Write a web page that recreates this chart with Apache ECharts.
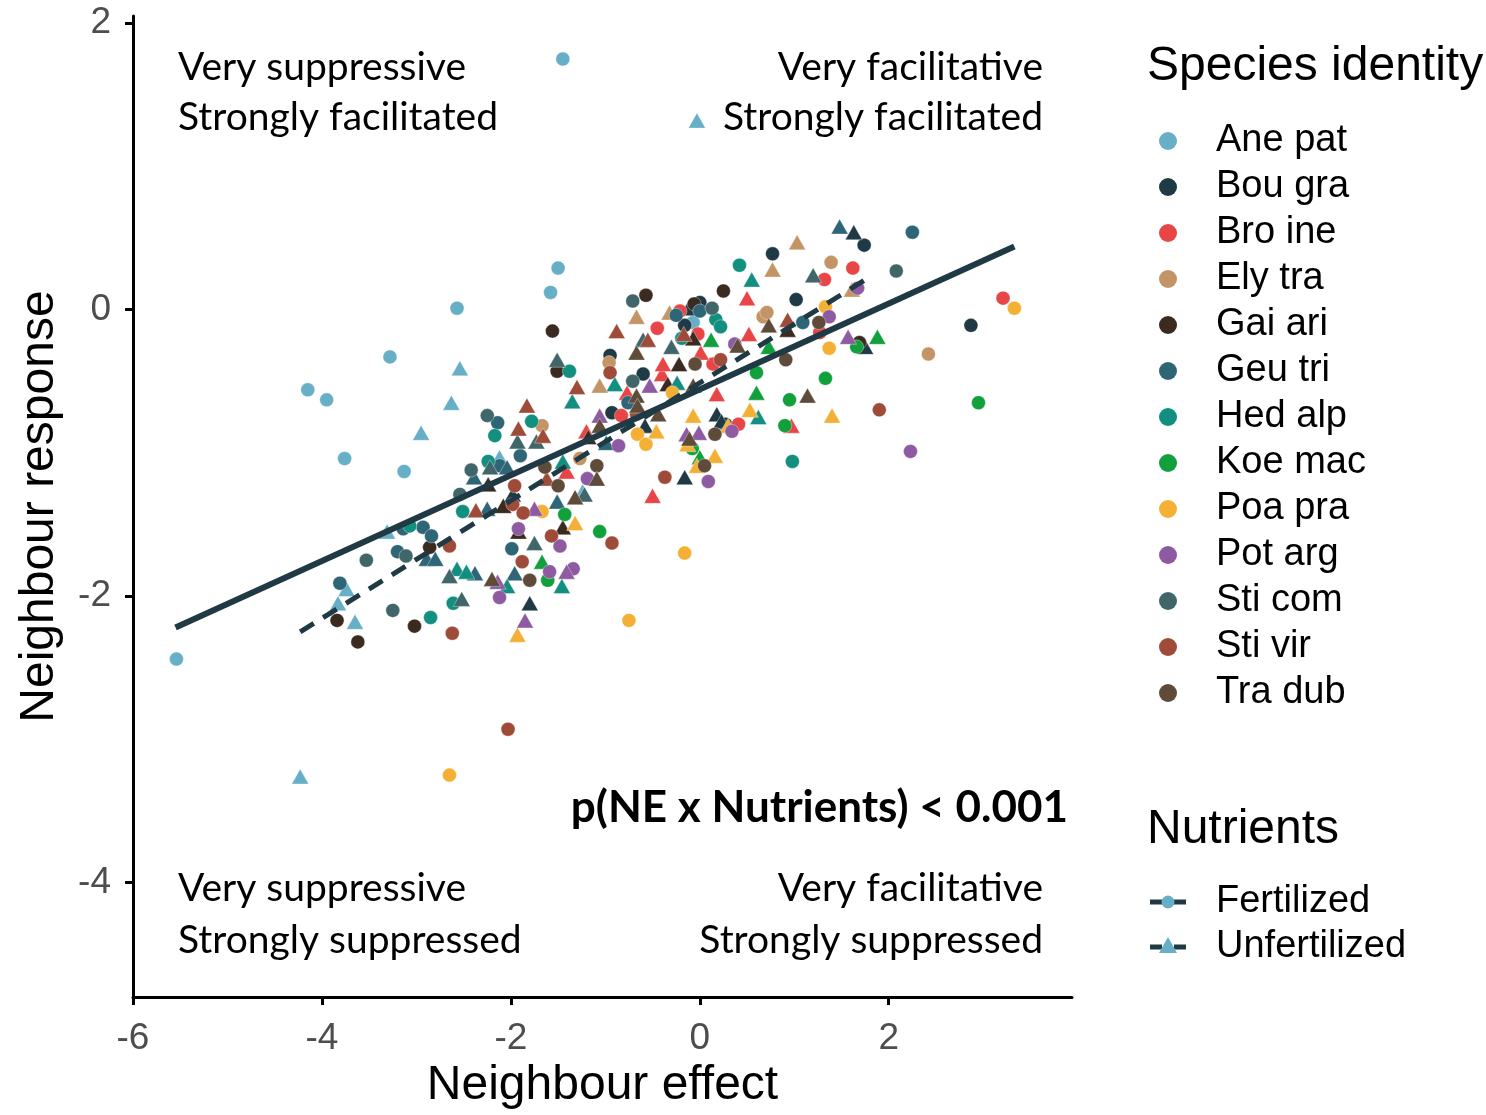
<!DOCTYPE html>
<html>
<head>
<meta charset="utf-8">
<script src="https://cdn.jsdelivr.net/npm/echarts@6/dist/echarts.min.js"></script>
<style>html,body{margin:0;padding:0;background:#fff;}#chart{width:1486px;height:1115px;}</style>
</head>
<body>
<div id="chart"></div>
<script>
// ---- Data ----
const species = ['Ane pat','Bou gra','Bro ine','Ely tra','Gai ari','Geu tri','Hed alp','Koe mac','Poa pra','Pot arg','Sti com','Sti vir','Tra dub'];
const speciesColors = ['#67AFC7','#1F3A45','#E84547','#C39465','#3A2A20','#2E6577','#138F80','#12A03C','#F4B034','#8E5AA2','#416669','#9E4B3A','#5E4B3A'];
const nutrients = ['Fertilized', 'Unfertilized'];

// Fertilized (circles), [neighbour effect, neighbour response]
const fertAnePat = [[-1.45,1.75],[-1.50,0.29],[-1.58,0.12],[-2.57,0.01],[-3.28,-0.33],[-4.15,-0.56],[-3.95,-0.63],[-3.76,-1.04],[-3.13,-1.13],[-5.54,-2.44],[-0.07,-0.09]];
const fertBouGra = [[1.74,0.45],[2.87,-0.11],[1.02,0.07],[0.77,0.39],[-0.95,-0.32],[-0.16,-0.11],[-0.60,-0.45],[-0.93,-0.72],[0.00,0.05],[0.27,-0.80]];
const fertBroIne = [[3.21,0.08],[1.62,0.29],[1.32,0.21],[1.27,-0.16],[-0.21,-0.01],[-0.02,-0.17],[0.14,-0.38],[-0.83,-0.74],[0.41,-0.80],[-0.45,-0.13]];
const fertElyTra = [[1.39,0.33],[0.67,-0.05],[2.42,-0.31],[-0.96,-0.37],[-1.27,-1.04],[-1.67,-0.81],[0.71,-0.02]];
const fertGaiAri = [[-3.84,-2.17],[-3.62,-2.32],[-3.02,-2.21],[-2.86,-1.66],[-1.56,-0.15],[-0.57,0.10],[-0.06,0.04],[0.25,0.13],[1.69,-0.23],[-1.51,-0.43]];
const fertGeuTri = [[2.25,0.54],[1.09,-0.09],[-0.25,-0.04],[0.00,-0.01],[-0.76,-0.65],[-2.14,-0.79],[-1.90,-1.02],[-2.12,-1.09],[-3.81,-1.91],[-2.93,-1.52],[-2.84,-1.58],[-3.20,-1.69],[-3.14,-1.53],[-1.99,-1.67]];
const fertHedAlp = [[0.42,0.31],[0.17,-0.07],[0.22,-0.12],[-0.19,-0.20],[-1.38,-0.43],[-2.17,-0.88],[-1.78,-0.78],[-2.24,-1.06],[-2.51,-1.41],[-3.07,-1.51],[-2.85,-2.15],[-2.61,-2.05],[0.98,-1.06]];
const fertKoeMac = [[1.66,-0.26],[0.60,-0.44],[1.33,-0.48],[0.95,-0.63],[0.90,-0.81],[2.95,-0.65],[-0.08,-0.97],[-1.43,-1.43],[-1.06,-1.55],[-1.61,-1.89]];
const fertPoaPra = [[3.33,0.01],[1.33,0.02],[1.37,-0.27],[-0.29,-0.58],[-0.66,-0.87],[-0.57,-0.94],[-0.16,-1.70],[-0.75,-2.17],[-2.65,-3.25],[-1.67,-1.41]];
const fertPotArg = [[1.67,0.15],[1.37,-0.05],[0.37,-0.24],[-0.86,-0.95],[0.34,-0.85],[0.09,-1.20],[-1.19,-1.18],[2.23,-0.99],[-1.48,-1.65],[-1.59,-1.83],[-1.34,-1.81],[-2.12,-2.01],[-1.92,-1.53]];
const fertStiCom = [[2.08,0.27],[-0.71,0.06],[0.13,0.01],[-0.71,-0.50],[-2.25,-0.74],[-2.42,-1.12],[-2.54,-1.29],[-3.53,-1.75],[-3.25,-2.10],[-3.11,-1.72]];
const fertStiVir = [[1.90,-0.70],[0.22,-0.35],[-0.95,-0.44],[-0.67,-0.73],[-0.37,-1.17],[-1.96,-1.23],[-1.98,-1.36],[-1.87,-1.42],[-2.65,-1.65],[-2.62,-2.26],[-2.03,-2.93],[-1.88,-1.76],[-0.93,-1.63],[-1.57,-1.58]];
const fertTraDub = [[1.26,-0.09],[0.91,-0.35],[-0.05,-0.38],[0.16,-0.87],[0.05,-1.09],[-1.09,-1.09],[-1.50,-1.23],[-1.64,-1.10],[-1.80,-1.89]];

// Unfertilized (triangles)
const unfAnePat = [[-0.03,1.32],[-2.54,-0.41],[-2.63,-0.65],[-2.95,-0.86],[-4.23,-3.26],[-3.74,-1.95],[-3.83,-2.05],[-3.65,-2.18],[-2.12,-1.03],[-3.31,-1.55],[-1.24,-1.27]];
const unfBouGra = [[1.63,0.54],[1.75,-0.26],[-0.12,0.01],[0.18,-0.73],[0.23,-0.78],[-0.58,-0.81],[-0.16,-1.17],[-1.80,-2.05],[-1.98,-1.29]];
const unfBroIne = [[0.50,0.08],[0.52,-0.17],[0.97,-0.81],[-0.77,-0.58],[-0.40,-0.45],[-1.20,-0.85],[-0.39,-0.38],[0.01,-0.30],[0.18,-0.59],[-0.50,-1.30],[-1.41,-1.13]];
const unfElyTra = [[1.03,0.47],[1.61,0.14],[0.77,0.28],[-0.67,-0.05],[-0.32,-0.02],[-1.06,-0.53]];
const unfGaiAri = [[0.93,-0.14],[-0.07,-0.20],[-0.22,-0.38],[-0.34,-0.52],[-1.18,-0.89],[-1.45,-1.52],[-2.24,-1.22],[-2.08,-1.37],[-1.92,-1.55]];
const unfGeuTri = [[1.48,0.58],[-2.04,-1.10],[-2.39,-1.17],[-2.25,-1.39],[-2.89,-1.74],[-2.80,-1.74],[-2.38,-1.84],[-1.96,-1.84],[-0.99,-0.93],[-1.51,-1.34]];
const unfHedAlp = [[0.55,0.21],[-1.35,-0.64],[-0.90,-0.52],[-0.24,-0.51],[0.62,-0.75],[-1.45,-1.06],[-2.57,-1.81],[-2.47,-1.83],[-2.04,-1.93],[-1.46,-1.93]];
const unfKoeMac = [[1.88,-0.19],[0.12,-0.21],[0.73,-0.26],[0.60,-0.58],[0.00,-1.03],[-1.67,-1.76]];
const unfPoaPra = [[1.40,-0.74],[0.53,-0.70],[-0.07,-0.74],[0.30,-0.81],[-0.46,-0.85],[-0.13,-0.94],[0.16,-1.02],[-0.03,-1.09],[-1.32,-1.49],[-1.93,-2.27]];
const unfPotArg = [[1.57,-0.19],[-0.53,-0.53],[-1.06,-0.74],[-0.14,-0.87],[-0.01,-0.86],[-1.75,-1.39],[-1.41,-1.83],[-2.14,-1.90],[-1.85,-2.17]];
const unfStiCom = [[1.20,0.24],[-1.51,-0.35],[-0.60,-0.21],[-0.30,-0.26],[-1.73,-0.92],[-1.93,-0.92],[-2.22,-1.10],[-1.22,-1.29],[-2.52,-2.02],[-2.65,-1.86],[-1.75,-1.63]];
const unfStiVir = [[0.93,-0.07],[-0.88,-0.15],[-0.55,-0.21],[-0.17,-0.17],[-1.30,-0.54],[-1.83,-0.67],[-1.92,-0.83],[-1.66,-0.88],[-1.62,-1.18],[-2.37,-1.40]];
const unfTraDub = [[1.14,-0.60],[0.73,-0.11],[0.40,-0.25],[-0.67,-0.30],[-0.67,-0.60],[-0.66,-0.67],[-0.44,-0.73],[-1.06,-0.81],[-0.11,-0.90],[-0.07,-0.53],[-1.09,-1.18],[-1.32,-1.31],[-2.20,-1.88]];

// Fitted lines (end points)
const fertLine = [[-5.55,-2.22],[3.33,0.44]];
const unfLine = [[-4.23,-2.25],[1.78,0.22]];

const xTicks = [-6,-4,-2,0,2];
const yTicks = [-4,-2,0,2];

const fertData = [fertAnePat,fertBouGra,fertBroIne,fertElyTra,fertGaiAri,fertGeuTri,fertHedAlp,fertKoeMac,fertPoaPra,fertPotArg,fertStiCom,fertStiVir,fertTraDub];
const unfData = [unfAnePat,unfBouGra,unfBroIne,unfElyTra,unfGaiAri,unfGeuTri,unfHedAlp,unfKoeMac,unfPoaPra,unfPotArg,unfStiCom,unfStiVir,unfTraDub];

// ---- Chart ----
const chart = echarts.init(document.getElementById('chart'), null, {renderer:'canvas'});
const AX = 'Liberation Sans, Arial, sans-serif';
const ANN = 'Lato, Open Sans, sans-serif';
const lineColor = '#1F3A45';
const keyColor = '#67AFC7';

const series = species.map((name, i) => ({
  name: name,
  type: 'scatter',
  symbol: 'circle',
  z: 2,
  itemStyle: {color: speciesColors[i], opacity: 1, borderColor: 'rgba(255,255,255,0.6)', borderWidth: 0.6},
  data: fertData[i].map(p => ({value: p, symbol: 'circle', symbolSize: 14}))
    .concat(unfData[i].map(p => ({value: p, symbol: 'triangle', symbolSize: [17, 15]}))),
  emphasis: {disabled: true}
}));

series.push({
  name: nutrients[0], type: 'line', data: fertLine, z: 5,
  symbol: 'none',
  lineStyle: {color: lineColor, width: 6, type: 'solid', cap: 'butt'},
  emphasis: {disabled: true}, silent: true
});
series.push({
  name: nutrients[1], type: 'line', data: unfLine, z: 5,
  symbol: 'none',
  lineStyle: {color: lineColor, width: 5, type: [16, 11], cap: 'butt'},
  emphasis: {disabled: true}, silent: true
});

const annFont = '39px ' + ANN;
const legFont = '38px ' + AX;
const option = {
  animation: false,
  backgroundColor: '#fff',
  grid: {left: 133, top: 16, width: 939, height: 985, containLabel: false},
  xAxis: {
    type: 'value', min: -6, max: 3.94,
    splitLine: {show: false},
    axisLine: {show: true, onZero: false, lineStyle: {color: '#000', width: 3}},
    axisTick: {show: true, length: 8, lineStyle: {color: '#000', width: 3}, customValues: xTicks},
    axisLabel: {fontSize: 37, color: '#4D4D4D', fontFamily: AX, margin: 23, customValues: xTicks},
    name: 'Neighbour effect', nameLocation: 'middle', nameGap: 64,
    nameTextStyle: {fontSize: 48, color: '#000', fontFamily: AX}
  },
  yAxis: {
    type: 'value', min: -4.8, max: 2.05,
    splitLine: {show: false},
    axisLine: {show: true, onZero: false, lineStyle: {color: '#000', width: 3}},
    axisTick: {show: true, length: 8, lineStyle: {color: '#000', width: 3}, customValues: yTicks},
    axisLabel: {fontSize: 37, color: '#4D4D4D', fontFamily: AX, margin: 22, customValues: yTicks},
    name: 'Neighbour response', nameLocation: 'middle', nameGap: 69,
    nameTextStyle: {fontSize: 48, color: '#000', fontFamily: AX}
  },
  legend: [
    {
      data: species, orient: 'vertical', left: 1154, top: 113,
      icon: 'circle', itemWidth: 18, itemHeight: 18, itemGap: 0,
      selectedMode: false,
      itemStyle: {borderWidth: 0},
      textStyle: {fontSize: 38, color: '#000', fontFamily: AX, lineHeight: 46, padding: [0, 0, 0, 34]}
    }
  ],
  graphic: [
    {type: 'text', left: 1147, top: 43, style: {text: 'Species identity', font: '48px ' + AX, fill: '#000'}},
    {type: 'text', left: 1147, top: 806, style: {text: 'Nutrients', font: '48px ' + AX, fill: '#000'}},
    // Nutrients key: Fertilized
    {type: 'line', shape: {x1: 1150, y1: 902, x2: 1186, y2: 902}, style: {stroke: lineColor, lineWidth: 5}},
    {type: 'circle', shape: {cx: 1168, cy: 902, r: 6.5}, style: {fill: keyColor}},
    {type: 'text', x: 1216, y: 902, style: {text: nutrients[0], font: legFont, fill: '#000', textVerticalAlign: 'middle'}},
    // Nutrients key: Unfertilized
    {type: 'line', shape: {x1: 1150, y1: 947, x2: 1162, y2: 947}, style: {stroke: lineColor, lineWidth: 5}},
    {type: 'line', shape: {x1: 1174, y1: 947, x2: 1186, y2: 947}, style: {stroke: lineColor, lineWidth: 5}},
    {type: 'polygon', shape: {points: [[1168, 937], [1177, 953], [1159, 953]]}, style: {fill: keyColor}},
    {type: 'text', x: 1216, y: 947, style: {text: nutrients[1], font: legFont, fill: '#000', textVerticalAlign: 'middle'}},
    // Quadrant annotations
    {type: 'text', x: 178, y: 67, style: {text: 'Very suppressive', font: annFont, fill: '#000', textAlign: 'left', textVerticalAlign: 'middle'}},
    {type: 'text', x: 178, y: 117, style: {text: 'Strongly facilitated', font: annFont, fill: '#000', textAlign: 'left', textVerticalAlign: 'middle'}},
    {type: 'text', x: 1043, y: 67, style: {text: 'Very facilitative', font: annFont, fill: '#000', textAlign: 'right', textVerticalAlign: 'middle'}},
    {type: 'text', x: 1043, y: 117, style: {text: 'Strongly facilitated', font: annFont, fill: '#000', textAlign: 'right', textVerticalAlign: 'middle'}},
    {type: 'text', x: 178, y: 888, style: {text: 'Very suppressive', font: annFont, fill: '#000', textAlign: 'left', textVerticalAlign: 'middle'}},
    {type: 'text', x: 178, y: 940, style: {text: 'Strongly suppressed', font: annFont, fill: '#000', textAlign: 'left', textVerticalAlign: 'middle'}},
    {type: 'text', x: 1043, y: 888, style: {text: 'Very facilitative', font: annFont, fill: '#000', textAlign: 'right', textVerticalAlign: 'middle'}},
    {type: 'text', x: 1043, y: 940, style: {text: 'Strongly suppressed', font: annFont, fill: '#000', textAlign: 'right', textVerticalAlign: 'middle'}},
    {type: 'text', x: 1068, y: 808, style: {text: 'p(NE x Nutrients) < 0.001', font: 'bold 44px ' + ANN, fill: '#000', textAlign: 'right', textVerticalAlign: 'middle'}}
  ],
  series: series
};
chart.setOption(option);
</script>
</body>
</html>
